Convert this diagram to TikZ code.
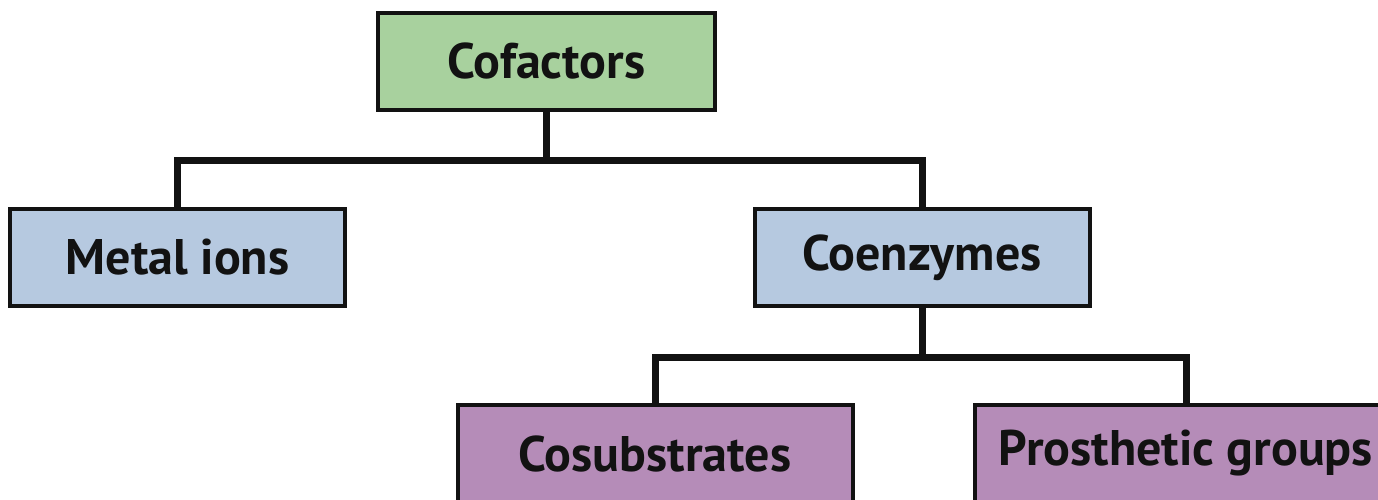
\documentclass[tikz,border=0pt]{standalone}
\usepackage{fontspec}
\newfontfamily\labelfont{PT Sans}
\definecolor{cofgreen}{RGB}{168,209,158}
\definecolor{midblue}{RGB}{182,201,224}
\definecolor{lilac}{RGB}{181,140,184}
\definecolor{ink}{RGB}{18,18,18}
\tikzset{
  box/.style={draw=ink, line width=4pt, minimum height=97pt, inner sep=0pt,
    font=\labelfont\bfseries\fontsize{50}{58}\selectfont, text=ink},
  conn/.style={draw=ink, line width=7pt, line cap=butt, line join=miter}
}
\begin{document}
\begin{tikzpicture}[x=1pt,y=-1pt]
  \useasboundingbox (0,0) rectangle (1378,500);
  \clip (0,0) rectangle (1378,500);
  \fill[white] (0,0) rectangle (1378,500);
  % top level
  \node[box, fill=cofgreen, minimum width=337pt] (cof) at (546.5,61.5) {Cofactors};
  % second level
  \node[box, fill=midblue, minimum width=335pt] (metal) at (177.5,257.5) {Metal ions};
  \node[box, fill=midblue, minimum width=335pt] (coenz) at (922,257.5) {Coenzymes};
  % third level
  \node[box, fill=lilac, minimum width=395pt] (cosub) at (655,453.5) {Cosubstrates};
  \node[box, fill=lilac, minimum width=422pt] (prost) at (1186,453.5) {Prosthetic groups};
  % junctions of the branching lines
  \coordinate (j1) at (546.5,160);
  \coordinate (j2) at (922,357);
  \draw[conn] (cof.south) -- (j1);
  \draw[conn] (metal.north) |- (j1) -| (coenz.north);
  \draw[conn] (coenz.south) -- (j2);
  \draw[conn] (cosub.north) |- (j2) -| (prost.north);
\end{tikzpicture}
\end{document}
